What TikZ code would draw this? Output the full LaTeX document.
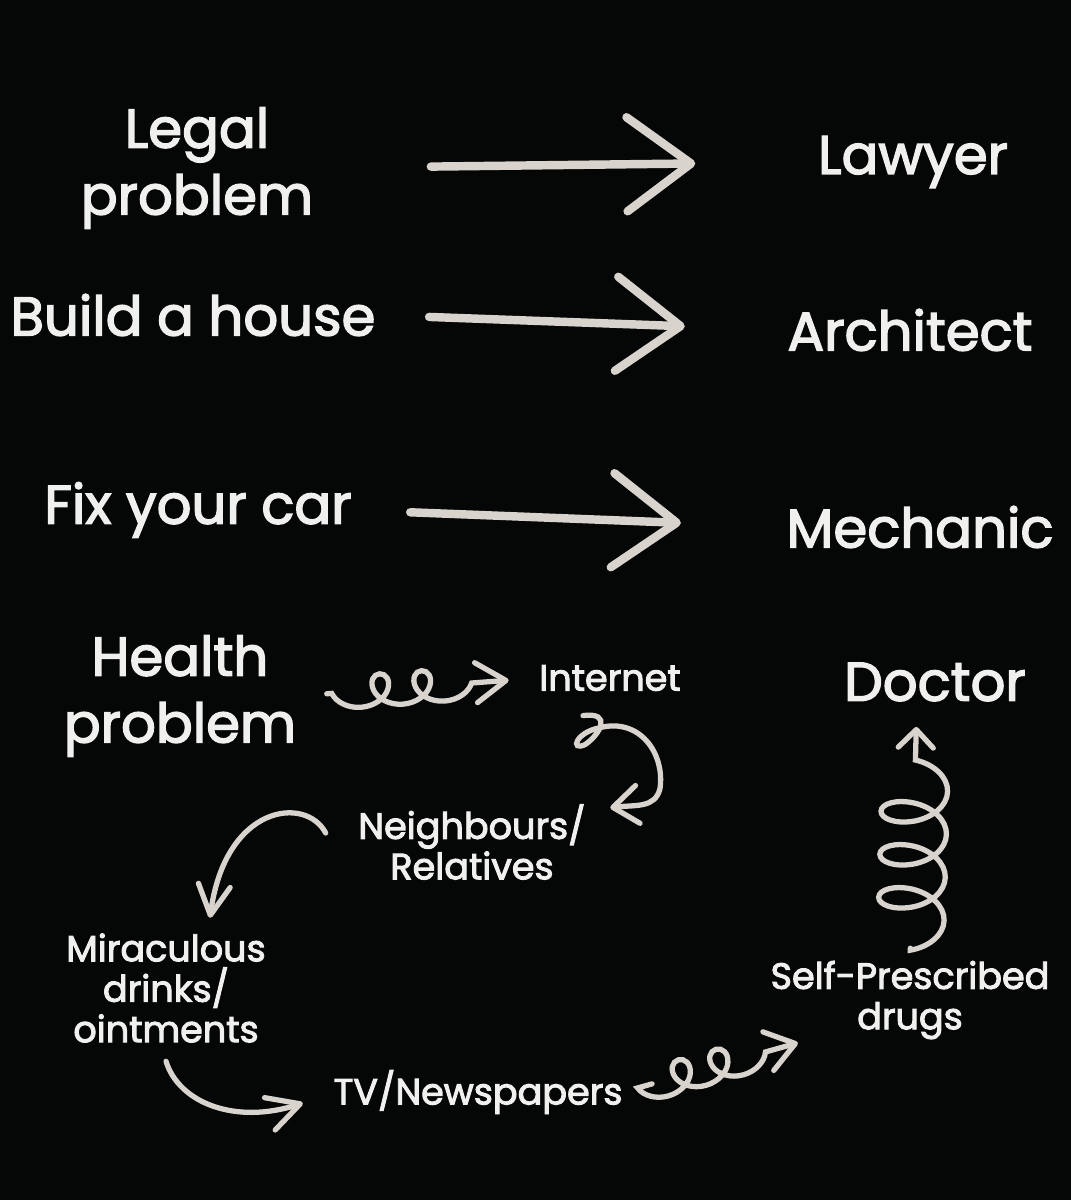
\documentclass[tikz,border=0pt]{standalone}
\usepackage{fontspec}
\setmainfont{Poppins}[FakeBold=2.6]
\usetikzlibrary{arrows.meta,decorations.pathmorphing,calc}
\definecolor{board}{HTML}{050706}
\definecolor{chalk}{HTML}{F0F0EE}
\definecolor{stroke}{HTML}{D9D3CD}

\begin{document}
\begin{tikzpicture}[x=0.01cm,y=-0.01cm,
  big/.style={text=chalk,align=center,inner sep=0pt,font=\fontsize{15.5}{19}\selectfont},
  small/.style={text=chalk,align=center,inner sep=0pt,font=\fontsize{10.4}{11.5}\selectfont},
  straight/.style={draw=stroke,line width=2.4pt,line cap=round,-{Straight Barb[length=6.4mm,width=9.4mm,round]}},
  curl/.style={draw=stroke,line width=1.5pt,line cap=round},
  coiled/.style={curl,decorate,decoration={coil,#1}}]
  \fill[board] (0,0) rectangle (1071,1200);

  % left column
  \node[big] (legal) at (197,168) {Legal\\problem};
  \node[big] (house) at (193,315) {Build a house};
  \node[big] (car) at (198,510) {Fix your car};
  \node[big] (health) at (180,696) {Health\\problem};
  % right column
  \node[big] (lawyer) at (913,162) {Lawyer};
  \node[big] (architect) at (910,330) {Architect};
  \node[big] (mechanic) at (920,527) {Mechanic};
  \node[big] (doctor) at (935,682) {Doctor};
  % the long way round
  \node[small] (internet) at (610,678) {Internet};
  \node[small] (neighbours) at (472,842) {Neighbours/\\Relatives};
  \node[small] (miraculous) at (166,988) {Miraculous\\drinks/\\ointments};
  \node[small] (tv) at (478,1092) {TV/Newspapers};
  \node[small] (selfdrugs) at (910,1000) {Self-Prescribed\\drugs};

  \draw[straight,shorten <=11.7mm,shorten >=12.2mm] (legal.east) -- (lawyer.west);
  \draw[straight,shorten <=5.3mm,shorten >=10.2mm] (house.east) -- (architect.west);
  \draw[straight,shorten <=5.8mm,shorten >=10.5mm] (car.east) -- (mechanic.west);

  \draw[coiled={amplitude=1.6mm,segment length=4.2mm,aspect=1.1,mirror,pre length=3.5mm,post length=3mm},
    -{Straight Barb[length=3mm,width=4mm,round]},shorten <=3mm,shorten >=3mm]
    (health.east) -- (internet.west);
  \draw[curl,-{Straight Barb[length=2.5mm,width=3.8mm,round]}]
    ($(internet.south)+(-27,24)$) .. controls +(30,-4) and +(15,-10) .. +(2,29)
    .. controls +(-15,7) and +(-25,5) .. ($(internet.south)+(-10,36)$)
    .. controls +(40,-10) and +(5,-35) .. ($(internet.south)+(50,97)$)
    .. controls +(-5,20) and +(25,-3) .. ($(neighbours.north east)+(24,4)$);
  \draw[curl,-{Straight Barb[length=3mm,width=3.2mm,round]}]
    ($(neighbours.west)+(-32,-9)$) .. controls +(-20,-38) and +(15,-113) .. ($(miraculous.north)+(44,-15)$);
  \draw[curl,-{Straight Barb[length=3.2mm,width=3.4mm,round]}]
    ($(miraculous.south)+(0,18)$) .. controls +(13,42) and +(-67,22) .. ($(tv.west)+(-30,11)$);
  \draw[coiled={amplitude=1.6mm,segment length=3.9mm,aspect=1.1,mirror,pre length=1.5mm,post length=2mm},
    -{Straight Barb[length=2.8mm,width=4mm,round]},shorten <=3mm]
    (tv.east) -- ($(selfdrugs.south west)+(28,3)$);
  \draw[coiled={amplitude=3.3mm,segment length=4.3mm,aspect=0.6,mirror,pre length=1mm,post length=3.5mm},
    -{Straight Barb[length=1.8mm,width=3.5mm,round]},shorten <=1.2mm,shorten >=2.5mm]
    (selfdrugs.north) -- ([xshift=-1.8mm]doctor.south);
\end{tikzpicture}
\end{document}
